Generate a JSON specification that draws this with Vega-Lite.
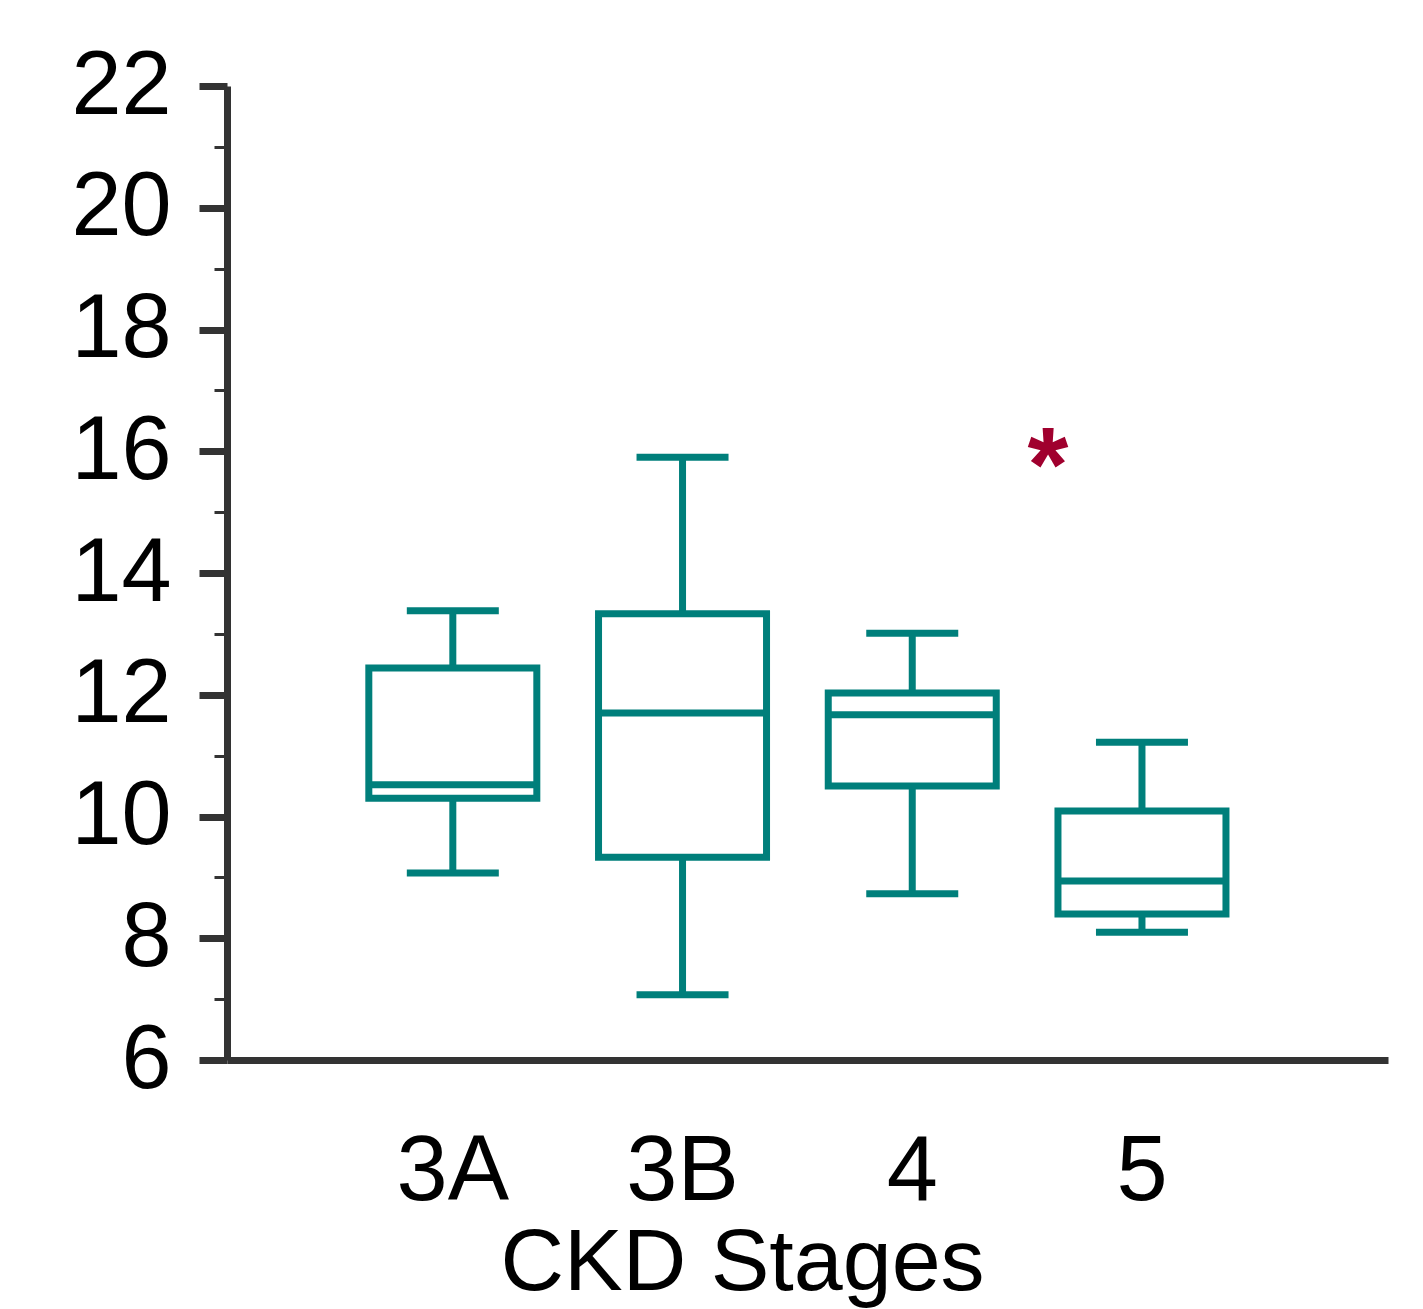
{
  "$schema": "https://vega.github.io/schema/vega-lite/v6.json",
  "width": 1161,
  "height": 974,
  "autosize": {"type": "none"},
  "padding": {"left": 227, "top": 86, "right": 35, "bottom": 249},
  "background": "white",
  "config": {
    "view": {"stroke": null},
    "font": "Liberation Sans"
  },
  "datasets": {
    "boxes": [
      {"stage": "3A", "min": 9.07, "q1": 10.3, "median": 10.52, "q3": 12.44, "max": 13.38},
      {"stage": "3B", "min": 7.07, "q1": 9.33, "median": 11.7, "q3": 13.33, "max": 15.9},
      {"stage": "4", "min": 8.73, "q1": 10.5, "median": 11.67, "q3": 12.03, "max": 13.01},
      {"stage": "5", "min": 8.1, "q1": 8.4, "median": 8.94, "q3": 10.09, "max": 11.22}
    ],
    "outliers": [
      {"stage": "5", "value": 15.95}
    ]
  },
  "encoding": {
    "x": {
      "field": "stage",
      "type": "nominal",
      "sort": ["3A", "3B", "4", "5"],
      "scale": {"type": "band", "paddingInner": 0.946, "paddingOuter": 1, "align": 0.478, "domain": ["3A", "3B", "4", "5"]},
      "axis": {
        "title": "CKD Stages",
        "labelAngle": 0,
        "ticks": false,
        "labelPadding": 66,
        "labelFontSize": 92,
        "labelColor": "black",
        "titleFontSize": 88,
        "titleFontWeight": "normal",
        "titleColor": "black",
        "titlePadding": 2,
        "titleX": 515,
        "domainColor": "#333333",
        "domainWidth": 7,
        "grid": false
      }
    }
  },
  "layer": [
    {
      "data": {"name": "boxes"},
      "mark": {"type": "rule", "color": "#007f7b", "strokeWidth": 7},
      "encoding": {
        "y": {
          "field": "min",
          "type": "quantitative",
          "scale": {"domain": [6, 22], "nice": false, "zero": false},
          "axis": {
            "title": null,
            "values": [6, 7, 8, 9, 10, 11, 12, 13, 14, 15, 16, 17, 18, 19, 20, 21, 22],
            "format": "d",
            "labelExpr": "datum.value % 2 == 0 ? datum.label : ''",
            "labelFontSize": 90,
            "labelColor": "black",
            "labelPadding": 28,
            "tickSize": {"condition": {"test": "datum.value % 2 == 0", "value": 28}, "value": 13},
            "tickWidth": {"condition": {"test": "datum.value % 2 == 0", "value": 7}, "value": 3},
            "tickColor": "#333333",
            "domainColor": "#333333",
            "domainWidth": 7,
            "grid": false
          }
        },
        "y2": {"field": "max"}
      }
    },
    {
      "data": {"name": "boxes"},
      "mark": {"type": "bar", "size": 168, "fill": "white", "stroke": "#007f7b", "strokeWidth": 7},
      "encoding": {
        "y": {"field": "q1", "type": "quantitative"},
        "y2": {"field": "q3"}
      }
    },
    {
      "data": {"name": "boxes"},
      "mark": {"type": "tick", "size": 168, "thickness": 7, "color": "#007f7b", "opacity": 1},
      "encoding": {
        "y": {"field": "median", "type": "quantitative"}
      }
    },
    {
      "data": {"name": "boxes"},
      "mark": {"type": "tick", "size": 92, "thickness": 7, "color": "#007f7b", "opacity": 1},
      "encoding": {
        "y": {"field": "min", "type": "quantitative"}
      }
    },
    {
      "data": {"name": "boxes"},
      "mark": {"type": "tick", "size": 92, "thickness": 7, "color": "#007f7b", "opacity": 1},
      "encoding": {
        "y": {"field": "max", "type": "quantitative"}
      }
    },
    {
      "data": {"name": "outliers"},
      "mark": {"type": "text", "text": "*", "fontSize": 105, "fontWeight": "bold", "color": "#a0002e", "baseline": "middle", "align": "center", "dx": -94, "dy": 15},
      "encoding": {
        "y": {"field": "value", "type": "quantitative"}
      }
    }
  ]
}
